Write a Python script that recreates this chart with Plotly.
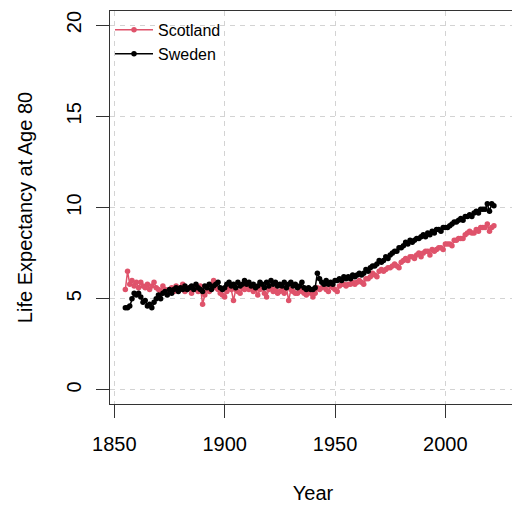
import plotly.graph_objects as go

years = list(range(1855, 2023))

scotland = [
    5.5, 6.5, 5.8, 6.0, 5.7, 5.9, 5.6, 5.9, 5.7, 5.6,
    5.8, 5.5, 5.7, 5.9, 5.6, 5.5, 5.4, 5.7, 5.5, 5.3,
    5.5, 5.6, 5.4, 5.7, 5.5, 5.6, 5.8, 5.4, 5.5, 5.6,
    5.3, 5.6, 5.5, 5.4, 5.7, 4.7, 5.2, 5.5, 5.4, 5.8,
    6.0, 5.6, 5.5, 5.3, 5.2, 5.1, 5.4, 5.6, 5.5, 4.9,
    5.5, 5.4, 5.3, 5.6, 5.5, 5.7, 5.5, 5.6, 5.4, 5.5,
    5.2, 5.5, 5.6, 5.3, 5.1, 5.5, 5.6, 5.4, 5.5, 5.3,
    5.4, 5.5, 5.3, 5.6, 4.9, 5.5, 5.4, 5.3, 5.3, 5.5,
    5.4, 5.3, 5.2, 5.5, 5.3, 5.1, 5.3, 5.6, 5.5, 5.6,
    5.7, 5.5, 5.4, 5.7, 5.6, 5.5, 5.4, 5.7, 5.8, 5.8,
    5.7, 5.8, 5.8, 5.9, 5.8, 5.9, 6.0, 5.9, 5.8, 6.1,
    6.1, 6.2, 6.4, 6.3, 6.2, 6.5, 6.6, 6.5, 6.6, 6.7,
    6.7, 6.8, 6.9, 6.8, 6.7, 7.0, 7.1, 7.2, 7.1, 7.3,
    7.3, 7.2, 7.4, 7.5, 7.3, 7.5, 7.6, 7.6, 7.4, 7.7,
    7.6, 7.7, 7.8, 7.8, 7.7, 8.0, 8.0, 8.0, 7.9, 8.2,
    8.2, 8.3, 8.3, 8.3, 8.5, 8.6, 8.7, 8.6, 8.6, 8.8,
    8.7, 8.9, 8.9, 8.9, 9.1, 8.7, 8.9, 9.0,
]

sweden = [
    4.5, 4.5, 4.6, 5.0, 5.3, 5.2, 5.3, 5.1, 4.8, 4.9,
    4.6, 4.7, 4.5, 4.8, 5.0, 5.2, 5.0, 5.3, 5.4, 5.2,
    5.5, 5.3, 5.5, 5.6, 5.4, 5.6, 5.5, 5.7, 5.5, 5.6,
    5.7, 5.5, 5.8, 5.6, 5.5, 5.4, 5.7, 5.6, 5.8, 5.5,
    5.7, 5.8, 5.9, 5.6, 5.5, 5.6, 5.8, 5.9, 5.7, 5.8,
    5.6, 5.9, 5.7, 5.8, 6.0, 5.8, 5.9, 5.7, 5.8, 5.6,
    5.7, 5.9, 5.8, 5.6, 5.9, 5.7, 6.0, 5.8, 5.9, 5.7,
    5.8, 5.7, 5.9, 5.6, 5.8, 5.9, 5.7, 5.8, 5.6, 5.7,
    5.9, 5.6, 5.5, 5.6, 5.5, 5.5, 5.6, 6.4, 6.1, 5.9,
    5.8, 6.0, 5.8, 5.9, 5.8, 6.0, 6.0, 6.1, 6.0, 6.2,
    6.1, 6.2, 6.1, 6.3, 6.2, 6.3, 6.4, 6.3, 6.4, 6.6,
    6.5, 6.7, 6.8, 6.8, 6.9, 7.1, 7.0, 7.1, 7.3, 7.2,
    7.4, 7.5, 7.6, 7.6, 7.8, 7.8, 7.9, 8.1, 8.0, 8.2,
    8.1, 8.2, 8.3, 8.3, 8.4, 8.5, 8.4, 8.6, 8.5, 8.7,
    8.6, 8.8, 8.8, 8.7, 8.9, 8.9, 8.9, 9.0, 9.1, 9.2,
    9.2, 9.3, 9.4, 9.3, 9.5, 9.5, 9.6, 9.5, 9.7, 9.8,
    9.7, 9.9, 9.9, 9.9, 10.2, 9.8, 10.2, 10.1,
]

x_ticks = [1850, 1900, 1950, 2000]
y_ticks = [0, 5, 10, 15, 20]

FONT = "Liberation Sans, Arial, Helvetica, sans-serif"
AX = "#333333"
GRID = "#d3d3d3"

fig = go.Figure()
fig.add_trace(go.Scatter(
    x=years, y=scotland, name="Scotland", mode="lines+markers",
    line=dict(color="#DF536B", width=1.5),
    marker=dict(color="#DF536B", size=5.5),
))
fig.add_trace(go.Scatter(
    x=years, y=sweden, name="Sweden", mode="lines+markers",
    line=dict(color="black", width=1.5),
    marker=dict(color="black", size=5.5),
))

axis_common = dict(
    showline=True, mirror=True, linecolor=AX, linewidth=1.3,
    ticks="outside", ticklen=13, tickwidth=1.3, tickcolor=AX,
    showgrid=True, gridcolor=GRID, griddash="5px,5px", gridwidth=1,
    zeroline=False, tickfont=dict(size=20, color="black", family=FONT),
    automargin=False,
)

fig.update_layout(
    width=520, height=506,
    margin=dict(l=102, r=12, t=3, b=110),
    paper_bgcolor="white", plot_bgcolor="white",
    font=dict(family=FONT, color="black"),
    xaxis=dict(
        range=[1848.05, 2032], tickvals=x_ticks, ticklabelstandoff=9,
        title=dict(text="Year", font=dict(size=20), standoff=31),
        **axis_common,
    ),
    yaxis=dict(
        range=[-0.77, 20.77], tickvals=y_ticks, tickangle=-90, ticklabelstandoff=7,
        title=dict(text="Life Expectancy at Age 80", font=dict(size=20), standoff=24),
        **axis_common,
    ),
    legend=dict(
        x=0.0, y=0.995, xanchor="left", yanchor="top",
        bgcolor="rgba(0,0,0,0)", font=dict(size=16),
        tracegroupgap=0, itemwidth=38,
    ),
    showlegend=True,
)

fig.write_html("out.html")
